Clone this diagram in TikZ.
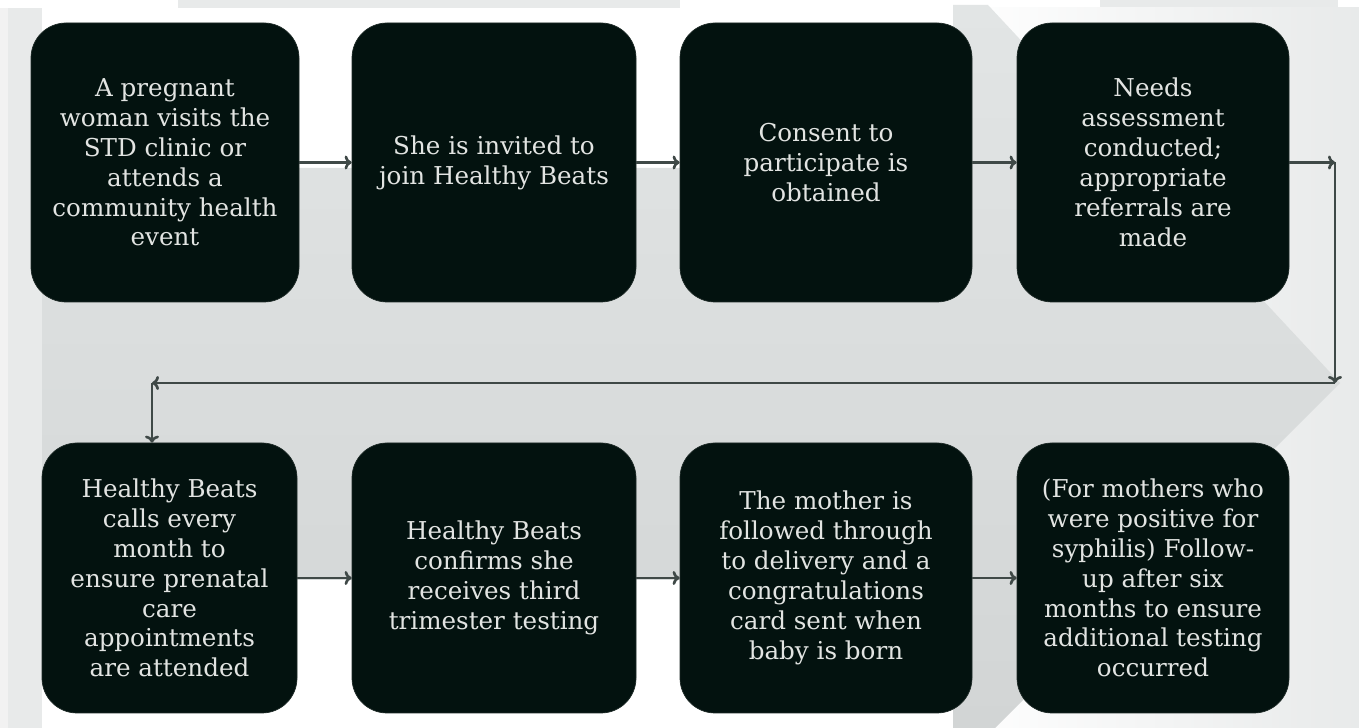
\documentclass[tikz,border=0pt]{standalone}
\usepackage{fontspec}
\setmainfont{DejaVu Serif}
\usepackage{tikz}
\usetikzlibrary{calc,positioning,arrows.meta}
\definecolor{boxfill}{HTML}{03120F}
\definecolor{boxline}{HTML}{1E2A27}
\definecolor{boxtext}{HTML}{E2E4E2}
\definecolor{linkgray}{HTML}{3F4947}
\definecolor{stripgray}{HTML}{E8EAEA}
\definecolor{bandtop}{HTML}{E2E5E5}
\definecolor{bandmid}{HTML}{CDD1D1}
\definecolor{bandlow}{HTML}{D2D5D5}
\tikzstyle{process} = [rectangle, draw=boxline, fill=boxfill, text=boxtext, align=center, rounded corners=0.7cm, inner sep=0pt, font=\fontsize{14}{17}\selectfont]
\tikzstyle{link} = [-{To[length=4pt,width=8pt]}, draw=linkgray, line width=1.5pt]

\begin{document}
\begin{tikzpicture}
            \useasboundingbox (0,0) rectangle (27.18,-14.56);
            \fill[white] (0,0) rectangle (27.18,-14.56);
            \fill[stripgray] (0,-0.16) rectangle (0.84,-14.56);
            \fill[stripgray!60!gray!20] (0,-0.16) rectangle (0.16,-14.56);
            \fill[stripgray] (3.56,0) rectangle (13.6,-0.16);
            \fill[stripgray] (22,0) rectangle (26.76,-0.16);
            \shade[left color=white, right color=stripgray] (19,-0.16) rectangle (27.18,-14.56);
            \shade[top color=bandtop, middle color=bandmid, bottom color=bandlow]
                (0.84,-3.36) -- (19.06,-3.36) -- (19.06,-0.1) -- (19.76,-0.1) -- (26.8,-7.66)
                -- (19.9,-14.56) -- (19.06,-14.56) -- (19.06,-11.6) -- (0.84,-11.6) -- cycle;
            \node[process, minimum width=5.36cm, minimum height=5.58cm] (visit) at (3.30,-3.25)
                {A pregnant\\ woman visits the\\ STD clinic or\\ attends a\\ community health\\ event};
            \node[process, minimum width=5.68cm, minimum height=5.58cm] (invite) at (9.88,-3.25)
                {She is invited to\\ join Healthy Beats};
            \node[process, minimum width=5.84cm, minimum height=5.58cm] (consent) at (16.52,-3.25)
                {Consent to\\ participate is\\ obtained};
            \node[process, minimum width=5.44cm, minimum height=5.58cm] (assess) at (23.06,-3.25)
                {Needs\\ assessment\\ conducted;\\ appropriate\\ referrals are\\ made};
            \node[process, minimum width=5.10cm, minimum height=5.40cm] (calls) at (3.39,-11.56)
                {Healthy Beats\\ calls every\\ month to\\ ensure prenatal\\ care\\ appointments\\ are attended};
            \node[process, minimum width=5.68cm, minimum height=5.40cm] (confirm) at (9.88,-11.56)
                {Healthy Beats\\ confirms she\\ receives third\\ trimester testing};
            \node[process, minimum width=5.84cm, minimum height=5.40cm] (delivery) at (16.52,-11.56)
                {The mother is\\ followed through\\ to delivery and a\\ congratulations\\ card sent when\\ baby is born};
            \node[process, minimum width=5.44cm, minimum height=5.40cm] (followup) at (23.06,-11.56)
                {(For mothers who\\ were positive for\\ syphilis) Follow-\\ up after six\\ months to ensure\\ additional testing\\ occurred};
            \coordinate (turnA) at (26.7,-3.25);
            \coordinate (turnB) at (26.7,-7.66);
            \coordinate (turnC) at (3.04,-7.66);
            \draw[link] (visit.east) -- (invite.west);
            \draw[link] (invite.east) -- (consent.west);
            \draw[link] (consent.east) -- (assess.west);
            \draw[link] (assess.east) -- (turnA);
            \draw[link] (turnA) -- (turnB);
            \draw[link] (turnB) -- (turnC);
            \draw[link] (turnC) -- (turnC |- calls.north);
            \draw[link] (calls.east) -- (confirm.west);
            \draw[link] (confirm.east) -- (delivery.west);
            \draw[link] (delivery.east) -- (followup.west);
        \end{tikzpicture}
\end{document}
